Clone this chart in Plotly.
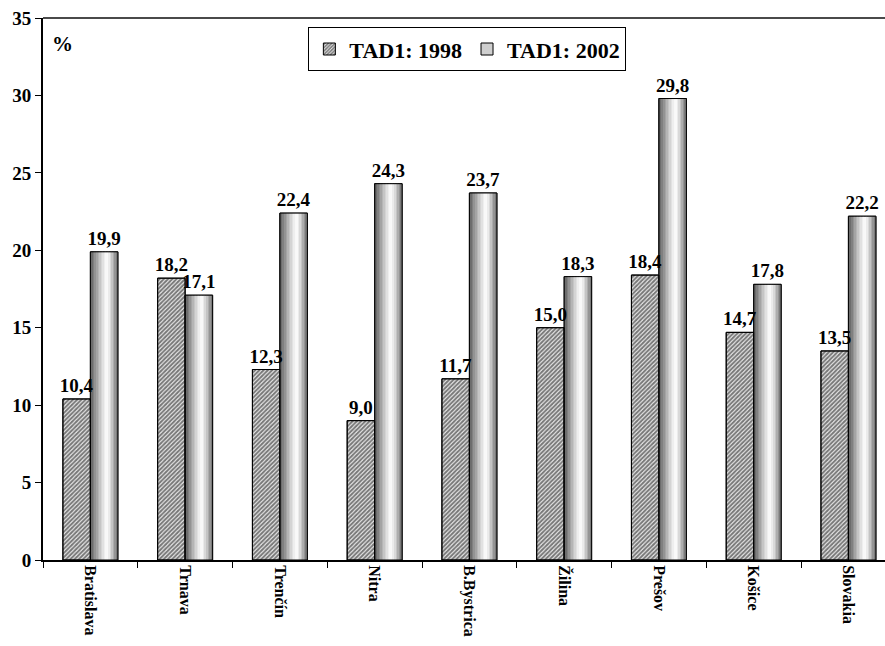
import plotly.graph_objects as go

regions = ["Bratislava", "Trnava", "Trenčín", "Nitra", "B.Bystrica",
           "Žilina", "Prešov", "Košice", "Slovakia"]
tad1998 = [10.4, 18.2, 12.3, 9.0, 11.7, 15.0, 18.4, 14.7, 13.5]
tad2002 = [19.9, 17.1, 22.4, 24.3, 23.7, 18.3, 29.8, 17.8, 22.2]
y_ticks = [0, 5, 10, 15, 20, 25, 30, 35]


def fmt(v):
    return f"{v:.1f}".replace(".", ",")


FONT = "Liberation Serif, Times New Roman, serif"
BW = 0.29  # bar width in category units
lbl_font = dict(family=FONT, size=19, color="black", weight="bold")

fig = go.Figure()

# 1998 hatched bars
fig.add_trace(go.Bar(
    x=regions, y=tad1998, name="TAD1: 1998",
    offset=-BW, width=BW,
    marker=dict(color="white", line=dict(color="black", width=1),
                pattern=dict(shape="/", size=3, solidity=0.65,
                             fgcolor="#000000", bgcolor="#f0f0f0")),
))

# 2002 base bar (for legend)
fig.add_trace(go.Bar(
    x=regions, y=tad2002, name="TAD1: 2002",
    offset=0, width=BW,
    marker=dict(color="#cfcfcf", line=dict(color="black", width=1)),
))

# gradient strips to imitate cylinder shading
N = 18
for k in range(N):
    t = (k + 0.5) / N
    if t < 0.62:
        L = 252 - (252 - 80) * ((0.62 - t) / 0.62) ** 1.3
    else:
        L = 252 - (252 - 110) * ((t - 0.62) / 0.38) ** 1.3
    c = int(round(L))
    fig.add_trace(go.Bar(
        x=regions, y=tad2002, offset=k * BW / N, width=BW / N + 0.002,
        marker=dict(color=f"rgb({c},{c},{c})", line=dict(width=0)),
        showlegend=False, hoverinfo="skip",
    ))

# outline + labels for 2002
fig.add_trace(go.Bar(
    x=regions, y=tad2002, offset=0, width=BW,
    marker=dict(color="rgba(0,0,0,0)", line=dict(color="black", width=1)),
    text=[fmt(v) for v in tad2002], textposition="outside",
    textfont=lbl_font, cliponaxis=False, showlegend=False, constraintext="none",
    hoverinfo="skip",
))

# labels for 1998 (drawn last so they sit on top)
fig.add_trace(go.Bar(
    x=regions, y=tad1998, offset=-BW, width=BW,
    marker=dict(color="rgba(0,0,0,0)", line=dict(color="black", width=1)),
    text=[fmt(v) for v in tad1998], textposition="outside",
    textfont=lbl_font, cliponaxis=False, showlegend=False, constraintext="none",
))

fig.update_layout(
    width=885, height=646,
    margin=dict(l=43, r=0, t=18, b=86, autoexpand=False),
    barmode="overlay",
    paper_bgcolor="white", plot_bgcolor="white",
    font=dict(family=FONT, color="black"),
    legend=dict(orientation="h", x=0.504, xanchor="center", y=0.983, yanchor="top",
                bordercolor="black", borderwidth=1, bgcolor="white",
                font=dict(family=FONT, size=22, color="black", weight="bold"),
                itemwidth=30, tracegroupgap=0),
    showlegend=True,
    annotations=[dict(text="%", xref="paper", yref="paper", x=0.0226, y=0.952,
                      showarrow=False, xanchor="center", yanchor="middle",
                      font=dict(family=FONT, size=21, color="black", weight="bold"))],
    shapes=[dict(type="line", xref="paper", yref="paper", x0=0, x1=1, y0=1, y1=1,
                 line=dict(color="#4a4a4a", width=2))],
)

fig.update_xaxes(
    range=[-0.5, 8.386], showline=True, linecolor="black", linewidth=2, mirror=False,
    ticks="outside", tickson="boundaries", ticklen=6, tickcolor="black", tickwidth=1,
    tickangle=90, showgrid=False, automargin=False, zeroline=False,
    tickfont=dict(family=FONT, size=16, color="black", weight="bold"),
)
fig.update_yaxes(
    range=[0, 35], tickvals=y_ticks, showline=True, linecolor="black", linewidth=2,
    ticks="outside", ticklen=6, tickcolor="black", tickwidth=1,
    showgrid=False, zeroline=False, automargin=False, mirror=False,
    tickfont=dict(family=FONT, size=19, color="black", weight="bold"),
)

fig.write_html(
    "out.html",
    config={"displayModeBar": False},
    post_script=("document.body.style.margin='0';"
                 "document.body.style.overflow='hidden';"
                 "document.documentElement.style.overflow='hidden';"),
)
